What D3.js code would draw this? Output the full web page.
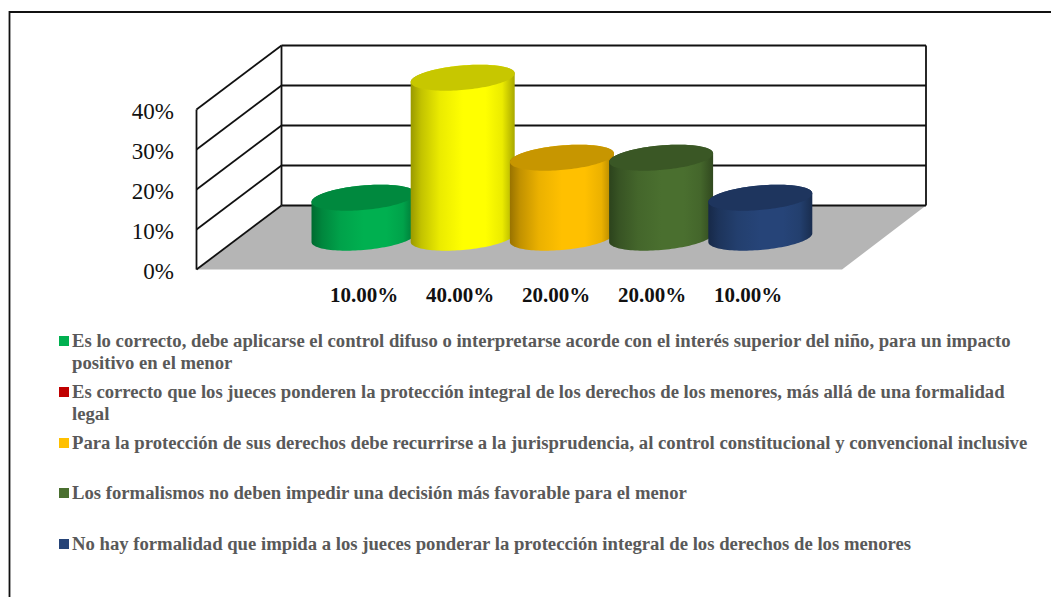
<!DOCTYPE html>
<html><head><meta charset="utf-8">
<style>html,body{margin:0;padding:0;background:#fff;overflow:hidden}svg{display:block}text{font-family:"Liberation Serif",serif}</style>
<script src="https://cdn.jsdelivr.net/npm/d3@7"></script></head><body>
<svg id="c" width="1051" height="597"></svg>
<script>
const barValues=[0.10,0.40,0.20,0.20,0.10];
const barLabels=["10.00%","40.00%","20.00%","20.00%","10.00%"];
const barColors=["#00b050","#ffff00","#ffc000","#4a6f2f","#264478"];
const tickValues=[0,0.1,0.2,0.3,0.4];
const legendLines=[
 [["Es lo correcto, debe aplicarse el control difuso o interpretarse acorde con el interés superior del niño, para un impacto","positivo en el menor"],"#00b050",347],
 [["Es correcto que los jueces ponderen la protección integral de los derechos de los menores, más allá de una formalidad","legal"],"#c00000",398],
 [["Para la protección de sus derechos debe recurrirse a la jurisprudencia, al control constitucional y convencional inclusive"],"#ffc000",449],
 [["Los formalismos no deben impedir una decisión más favorable para el menor"],"#4a6f2f",499],
 [["No hay formalidad que impida a los jueces ponderar la protección integral de los derechos de los menores"],"#264478",550]
];
const svg=d3.select("#c");
const y=d3.scaleLinear().domain([0,0.4]).range([0,160]);
const backY=v=>205.5-y(v), frontY=v=>269.5-y(v);
const backL=281.5, backR=926, frontL=196.5, frontR=842;
const x=d3.scaleBand().domain(d3.range(barValues.length)).range([311.5,311.5+99.2*5]);

// frame: open on the right, running off the page
svg.append("path").attr("d","M9.5,597V12H1051").attr("fill","none").attr("stroke","#111").attr("stroke-width",1.8);
// floor
svg.append("path").attr("d",`M${frontL},${frontY(0)}L${backL},${backY(0)}L${backR},${backY(0)}L${frontR},${frontY(0)}Z`).attr("fill","#b5b5b5");
// walls
const wall=svg.append("g").attr("fill","none").attr("stroke","#111").attr("stroke-width",1.8);
tickValues.forEach(v=>{
  wall.append("line").attr("x1",frontL).attr("y1",frontY(v)).attr("x2",backL).attr("y2",backY(v));
  wall.append("line").attr("x1",backL).attr("y1",backY(v)).attr("x2",backR).attr("y2",backY(v));
});
wall.append("line").attr("x1",frontL).attr("y1",frontY(0)).attr("x2",frontL).attr("y2",frontY(0.4));
wall.append("line").attr("x1",backL).attr("y1",backY(0)).attr("x2",backL).attr("y2",backY(0.4));
wall.append("line").attr("x1",backR).attr("y1",backY(0)).attr("x2",backR).attr("y2",backY(0.4));
// y labels
svg.append("g").selectAll("text").data(tickValues).join("text")
 .attr("x",174).attr("y",v=>frontY(v)+9).attr("text-anchor","end").attr("font-size",23).attr("fill","#111")
 .text(d3.format(".0%"));
// cylinders
const defs=svg.append("defs");
const cyl=svg.append("g");
const halfW=52, vy=13, vx=vy*85/64, ux=Math.sqrt(halfW*halfW-vx*vx);
const baseCy=237.7;
const pt=(cx,cy,t)=>[cx+ux*Math.cos(t)+vx*Math.sin(t), cy-vy*Math.sin(t)];
const tR=Math.atan2(vx,ux);
const line=d3.line();
barValues.forEach((v,i)=>{
  const cx=x(i)+halfW, top=baseCy-y(v), col=d3.color(barColors[i]);
  const g=defs.append("linearGradient").attr("id","g"+i).attr("gradientUnits","userSpaceOnUse")
    .attr("x1",cx-halfW).attr("x2",cx+halfW).attr("y1",0).attr("y2",0);
  [[0,.6],[.1,.76],[.28,.92],[.5,1],[.72,1],[.88,.92],[1,.66]].forEach(([o,k])=>{
    g.append("stop").attr("offset",o).attr("stop-color",d3.rgb(col.r*k,col.g*k,col.b*k));
  });
  // body: lower half of the bottom ellipse, then back along the top ellipse
  const low=d3.range(0,61).map(j=>pt(cx,baseCy,tR+Math.PI+Math.PI*j/60));
  const body=[pt(cx,top,tR+Math.PI),...low,...d3.range(0,61).map(j=>pt(cx,top,tR+2*Math.PI+Math.PI*j/60))];
  cyl.append("path").attr("d",line(body)+"Z").attr("fill",`url(#g${i})`);
  const cap=d3.range(0,121).map(j=>pt(cx,top,2*Math.PI*j/120));
  const k=.78;
  cyl.append("path").attr("d",line(cap)+"Z").attr("fill",d3.rgb(col.r*k,col.g*k,col.b*k));
});
// data labels
svg.append("g").selectAll("text").data(barLabels).join("text")
 .attr("x",(d,i)=>364+96*i).attr("y",302).attr("text-anchor","middle").attr("font-size",21).attr("font-weight","bold").attr("fill","#111").text(d=>d);
// legend
const lg=svg.append("g");
legendLines.forEach(([lines,c,b])=>{
  lg.append("rect").attr("x",59).attr("y",b-11).attr("width",10).attr("height",10).attr("fill",c);
  lines.forEach((t,i)=>lg.append("text").attr("x",72).attr("y",b+i*22).attr("font-size",18.7).attr("font-weight","bold").attr("fill","#595959").text(t));
});
</script></body></html>
